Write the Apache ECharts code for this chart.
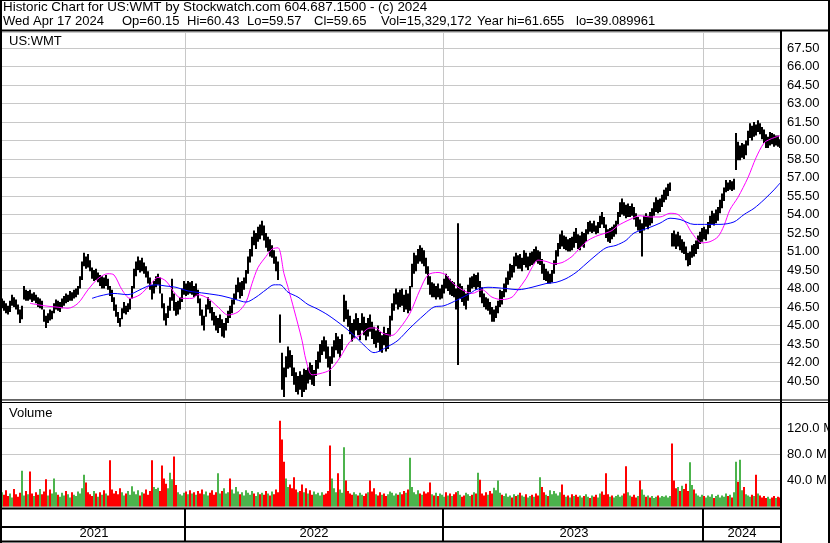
<!DOCTYPE html>
<html>
<head>
<meta charset="utf-8">
<script src="https://cdn.jsdelivr.net/npm/echarts@6/dist/echarts.min.js"></script>
<style>
html, body { margin: 0; padding: 0; background: #fff; }
#chart { width: 830px; height: 543px; }
</style>
</head>
<body>
<div id="chart"></div>
<script>
// one bar = two sessions, Apr 2021 .. Apr 17 2024 (split adjusted)
var highs = [
  47.2, 47.0, 46.8, 46.6, 47.0, 47.5, 47.3, 47.1, 46.7, 46.3,
  46.6, 48.2, 47.9, 47.8, 47.9, 47.6, 47.7, 47.5, 47.3, 47.2,
  47.0, 46.3, 45.8, 46.0, 46.3, 46.2, 46.8, 47.1, 47.0, 46.9,
  47.2, 47.4, 47.6, 47.5, 47.8, 47.7, 47.9, 48.0, 48.2, 49.0,
  50.2, 50.9, 50.6, 50.8, 50.3, 49.7, 49.5, 49.6, 49.3, 49.1,
  49.0, 48.9, 49.1, 48.8, 48.2, 47.9, 47.3, 46.7, 46.1, 45.6,
  46.4, 46.9, 46.6, 46.8, 47.2, 48.2, 49.6, 50.2, 50.6, 50.3,
  50.5, 50.1, 49.8, 49.4, 48.9, 48.3, 48.6, 49.0, 49.2, 48.9,
  47.6, 46.8, 46.0, 46.6, 47.3, 48.8, 47.6, 46.9, 47.0, 47.3,
  48.0, 48.6, 48.4, 48.6, 48.5, 48.6, 48.2, 48.4, 47.9, 47.2,
  46.3, 45.8, 46.7, 47.3, 47.0, 46.5, 46.1, 45.8, 45.6, 45.9,
  45.5, 45.2, 45.6, 46.2, 46.6, 47.1, 47.6, 48.3, 48.9, 48.5,
  48.6, 48.9, 49.5, 50.6, 51.2, 52.2, 52.7, 52.5, 53.0, 53.2,
  53.5, 53.1, 52.5, 52.2, 52.0, 51.5, 51.1, 50.6, 50.2, 45.9,
  42.8, 41.6, 42.5, 43.3, 43.0, 42.6, 41.6, 41.2, 40.9, 41.3,
  41.0, 41.5, 41.4, 41.6, 42.0, 41.8, 41.4, 42.2, 42.9, 43.5,
  43.8, 44.1, 43.8, 43.3, 42.5, 43.3, 43.8, 44.4, 44.1, 43.9,
  44.3, 47.5, 47.0, 46.3, 45.8, 45.2, 45.5, 46.0, 45.6, 45.2,
  46.0, 45.7, 45.2, 45.6, 45.9, 45.3, 44.9, 44.6, 45.0, 44.5,
  44.2, 44.9, 44.4, 44.8, 45.8, 46.8, 47.6, 48.0, 47.7, 47.9,
  48.0, 47.5, 47.9, 47.6, 48.2, 50.0, 50.9, 50.7, 51.2, 51.5,
  51.3, 51.1, 50.5, 49.8, 49.0, 48.5, 48.4, 48.2, 48.4, 48.0,
  48.3, 48.8, 49.2, 49.0, 48.8, 48.6, 48.5, 48.0, 53.3, 48.4,
  48.2, 47.9, 47.6, 48.3, 48.9, 49.0, 49.2, 49.1, 49.3, 48.6,
  48.1, 47.6, 47.3, 47.2, 46.9, 46.5, 46.3, 46.6, 47.0, 47.9,
  47.8, 48.4, 48.9, 49.4, 50.0, 49.9, 50.6, 50.9, 50.7, 50.8,
  50.5, 51.1, 50.9, 50.6, 50.9, 51.0, 51.2, 51.4, 51.1, 51.0,
  50.4, 50.0, 49.6, 49.4, 49.2, 49.5, 50.3, 51.1, 51.7, 52.4,
  52.7, 52.3, 52.2, 52.0, 52.1, 52.2, 52.6, 52.9, 52.4, 52.3,
  52.6, 52.5, 52.8, 53.4, 53.5, 53.3, 53.5, 53.1, 53.4, 53.9,
  54.2, 53.8, 53.2, 52.8, 52.9, 53.0, 53.2, 53.5, 54.2, 55.0,
  55.3, 55.0, 54.8, 54.9, 54.7, 54.9, 54.6, 54.1, 53.8, 53.6,
  53.3, 53.9, 54.1, 53.9, 54.2, 54.5, 55.0, 55.4, 55.2, 55.3,
  55.6, 56.0, 56.2, 56.5, 56.6, 52.5, 52.7, 52.4, 52.6, 52.3,
  52.0, 51.8, 51.4, 50.9, 51.0, 51.5, 51.6, 51.9, 52.3, 52.6,
  52.9, 53.0, 52.8, 53.4, 53.9, 54.3, 54.1, 54.4, 54.6, 55.2,
  55.7, 56.2, 56.8, 56.6, 56.8, 56.7, 56.9, 60.6, 59.9, 59.6,
  59.8, 59.7, 60.0, 60.8, 61.4, 61.2, 61.5, 61.3, 61.65, 61.4,
  61.1, 60.9, 60.5, 60.3, 60.7, 60.6, 60.5, 60.4, 60.4, 60.1
];
var lows = [
  46.4, 46.2, 46.0, 45.9, 46.1, 46.6, 46.5, 46.3, 45.9, 45.2,
  45.5, 47.1, 47.0, 47.0, 47.1, 46.9, 47.0, 46.8, 46.5, 46.4,
  46.3, 45.3, 44.8, 45.2, 45.4, 45.5, 46.0, 46.3, 46.2, 46.1,
  46.4, 46.6, 46.8, 46.9, 47.0, 47.0, 47.2, 47.3, 47.5, 48.0,
  48.7, 49.8, 49.6, 49.7, 49.4, 48.8, 48.6, 48.7, 48.5, 48.2,
  48.0, 48.0, 48.2, 47.9, 47.4, 46.9, 46.2, 45.7, 45.2, 44.9,
  45.5, 46.0, 45.9, 46.1, 46.3, 47.2, 48.0, 49.0, 49.5, 49.3,
  49.4, 49.2, 48.9, 48.4, 47.9, 47.1, 47.6, 48.1, 48.3, 47.6,
  46.4, 45.4, 45.0, 45.6, 46.2, 47.0, 46.2, 45.8, 45.9, 46.3,
  46.9, 47.5, 47.4, 47.5, 47.6, 47.5, 47.3, 47.4, 46.8, 45.8,
  45.0, 44.6, 45.7, 46.3, 46.0, 45.4, 45.0, 44.6, 44.4, 44.8,
  44.1, 44.0, 44.6, 45.2, 45.6, 46.0, 46.7, 47.1, 47.7, 47.2,
  47.4, 47.9, 48.4, 49.2, 50.1, 50.6, 51.5, 51.2, 51.8, 52.0,
  52.3, 51.9, 51.3, 51.0, 50.6, 50.5, 50.0, 49.4, 48.7, 43.6,
  39.8, 39.2, 40.8, 41.5, 41.6, 40.9, 40.2, 39.6, 39.4, 39.8,
  39.2, 39.6, 39.8, 40.3, 40.6, 40.2, 40.1, 40.9, 41.5, 42.0,
  42.6, 42.9, 42.3, 41.6, 40.1, 41.9, 42.4, 43.0, 42.7, 42.4,
  43.0, 45.3, 45.5, 44.9, 44.3, 43.7, 44.0, 44.6, 44.2, 43.8,
  44.6, 44.2, 43.8, 44.1, 44.5, 43.9, 43.5, 43.2, 43.6, 42.9,
  42.8, 43.4, 42.9, 43.1, 44.1, 45.4, 46.2, 46.7, 46.3, 46.5,
  46.6, 46.1, 46.3, 46.0, 46.2, 48.1, 49.2, 49.4, 50.0, 50.2,
  50.0, 49.8, 49.2, 48.3, 47.5, 47.3, 47.3, 47.1, 47.3, 47.1,
  47.2, 47.6, 48.0, 47.8, 47.5, 47.4, 47.3, 46.3, 41.8, 47.2,
  46.9, 46.6, 46.3, 47.0, 47.7, 48.0, 48.1, 47.9, 48.1, 47.3,
  46.8, 46.5, 46.3, 46.2, 45.9, 45.3, 45.3, 45.6, 46.0, 46.5,
  46.7, 47.3, 47.7, 48.3, 48.7, 48.9, 49.3, 49.8, 49.6, 49.6,
  49.4, 49.9, 49.7, 49.5, 49.8, 49.9, 50.0, 50.2, 50.0, 49.9,
  49.2, 48.7, 48.6, 48.4, 48.4, 48.5, 49.2, 49.9, 50.6, 51.2,
  51.4, 51.2, 51.1, 51.0, 51.0, 51.1, 51.3, 51.7, 51.2, 51.1,
  51.4, 51.3, 51.8, 52.4, 52.6, 52.5, 52.6, 52.4, 52.5, 52.9,
  53.2, 52.9, 52.1, 51.8, 51.7, 52.0, 52.2, 52.4, 53.2, 53.8,
  54.0, 53.9, 53.7, 53.8, 53.8, 53.9, 53.6, 53.0, 52.7, 52.5,
  50.6, 52.7, 53.0, 52.8, 53.1, 53.3, 53.9, 54.2, 54.1, 54.2,
  54.6, 55.0, 55.2, 55.5, 55.9, 51.4, 51.4, 51.2, 51.4, 51.1,
  50.9, 50.8, 50.3, 49.8, 49.9, 50.5, 50.6, 50.8, 51.2, 51.6,
  51.8, 52.0, 51.9, 52.4, 52.9, 53.2, 53.1, 53.3, 53.5, 54.1,
  54.5, 55.1, 55.8, 55.9, 56.0, 55.9, 56.0, 57.6, 58.4, 58.4,
  58.6, 58.5, 58.8, 59.6, 60.2, 60.0, 60.3, 60.4, 60.7, 60.5,
  60.1, 59.8, 59.4, 59.4, 59.6, 59.7, 59.5, 59.6, 59.5, 59.4
];
var closes = [
  46.8, 46.4, 46.2, 46.1, 46.8, 47.2, 46.8, 46.6, 46.1, 45.5,
  46.4, 47.8, 47.4, 47.6, 47.3, 47.2, 47.5, 47.0, 46.7, 47.0,
  46.5, 45.5, 45.1, 45.8, 45.6, 46.0, 46.5, 46.9, 46.4, 46.7,
  46.9, 47.2, 47.0, 47.3, 47.6, 47.2, 47.7, 47.8, 48.0, 48.8,
  50.0, 50.3, 50.1, 50.0, 49.6, 49.0, 49.2, 48.9, 49.0, 48.5,
  48.7, 48.3, 48.9, 48.1, 47.6, 47.1, 46.5, 45.9, 45.4, 45.2,
  46.2, 46.4, 46.3, 46.6, 47.0, 48.0, 49.3, 49.8, 50.1, 49.6,
  50.0, 49.5, 49.1, 48.6, 48.2, 47.4, 48.4, 48.7, 48.9, 47.8,
  46.6, 45.6, 45.3, 46.3, 47.0, 47.5, 46.4, 46.2, 46.6, 47.0,
  47.8, 48.1, 47.7, 48.3, 47.9, 48.2, 47.6, 48.0, 47.0, 46.0,
  45.3, 45.5, 46.5, 46.8, 46.4, 45.6, 45.3, 45.0, 45.2, 45.5,
  44.4, 44.9, 45.3, 46.0, 45.8, 46.9, 47.3, 48.0, 48.2, 47.5,
  48.3, 48.6, 49.3, 50.3, 50.8, 52.0, 51.8, 52.2, 52.6, 52.4,
  53.0, 52.2, 51.6, 51.8, 50.9, 51.2, 50.3, 49.8, 49.0, 43.8,
  40.3, 40.0, 42.0, 42.6, 41.9, 41.2, 40.5, 39.9, 40.6, 40.1,
  39.9, 41.0, 40.2, 41.3, 41.0, 40.6, 41.1, 41.9, 42.6, 42.8,
  43.5, 43.1, 42.6, 41.9, 41.5, 43.0, 43.4, 43.9, 43.1, 43.5,
  44.0, 46.8, 45.9, 45.3, 44.7, 44.1, 45.0, 45.3, 44.6, 44.9,
  45.6, 44.5, 44.3, 45.2, 44.8, 44.2, 43.8, 44.3, 43.9, 43.2,
  43.9, 43.7, 43.4, 44.4, 45.5, 46.4, 47.1, 47.4, 46.8, 47.6,
  47.0, 46.5, 47.5, 46.3, 48.0, 49.6, 50.3, 50.5, 50.9, 50.6,
  51.0, 50.2, 49.5, 48.6, 47.8, 48.2, 47.7, 48.0, 47.6, 47.8,
  48.0, 48.5, 48.4, 48.7, 47.9, 48.3, 47.6, 46.6, 47.8, 48.0,
  47.3, 47.1, 47.2, 48.0, 48.6, 48.3, 48.9, 48.4, 48.6, 47.6,
  47.2, 46.9, 46.6, 46.9, 46.2, 45.6, 46.0, 46.3, 46.8, 47.6,
  47.2, 48.1, 48.6, 49.2, 49.7, 49.3, 50.4, 50.2, 50.5, 49.9,
  50.2, 50.8, 50.0, 50.3, 50.6, 50.3, 50.9, 50.7, 50.4, 50.6,
  49.5, 49.0, 49.2, 48.7, 48.9, 49.3, 50.1, 50.8, 51.5, 52.0,
  51.8, 51.6, 51.9, 51.4, 51.8, 51.5, 52.3, 52.1, 51.6, 51.9,
  52.2, 52.0, 52.6, 53.1, 52.9, 53.2, 52.9, 52.7, 53.2, 53.6,
  53.5, 53.1, 52.4, 52.2, 52.6, 52.3, 52.9, 53.3, 54.0, 54.5,
  54.6, 54.2, 54.0, 54.3, 54.5, 54.2, 53.9, 53.3, 53.4, 52.8,
  52.9, 53.6, 53.4, 53.7, 53.5, 54.3, 54.6, 54.9, 54.5, 55.0,
  55.4, 55.7, 56.0, 56.3, 56.4, 51.9, 51.7, 51.5, 52.1, 51.4,
  51.6, 51.1, 50.6, 50.2, 50.7, 51.2, 50.9, 51.6, 52.0, 52.1,
  52.6, 52.4, 52.6, 53.2, 53.6, 53.8, 53.5, 54.1, 54.3, 54.9,
  55.4, 55.9, 56.4, 56.2, 56.5, 56.3, 56.6, 59.8, 59.1, 59.4,
  59.5, 59.0, 59.7, 60.5, 61.0, 60.6, 61.1, 60.8, 61.3, 60.8,
  60.5, 60.1, 59.7, 60.0, 60.4, 60.1, 59.8, 60.2, 59.7, 59.6
];
// volume, millions of shares
var volumes = [
  22, 18, 25, 16, 20, 14, 27, 19, 15, 21,
  55, 17, 24, 19, 54, 20, 16, 22, 18, 27,
  19, 23, 42, 17, 26, 20, 43, 22, 18, 15,
  21, 17, 24, 19, 14, 22, 18, 16, 23, 20,
  28, 49, 37, 22, 19, 16, 24, 20, 15, 22,
  18, 25, 20, 17, 71, 26, 20, 24, 19, 28,
  22, 17, 20, 24, 18, 31, 23, 19, 25, 17,
  22, 20, 26, 18, 24, 71, 30, 27, 29, 24,
  63, 43, 35, 28, 52, 42, 77, 33, 22, 19,
  17, 21, 23, 19, 25, 20, 22, 18, 24, 20,
  26, 19, 23, 17, 21, 25, 18, 22, 51, 20,
  24, 28, 20, 22, 43, 26, 20, 30, 23, 19,
  22, 17, 25, 21, 18, 24, 20, 16, 22, 19,
  21, 18, 24, 20, 17, 23, 19, 26, 22, 132,
  103, 69, 43, 30, 34, 28, 45, 26, 22, 24,
  34, 22, 28, 20, 25, 18, 23, 19, 21, 17,
  22, 18, 20, 24, 94, 43, 28, 22, 51, 26,
  21, 91, 40, 24, 20, 18, 22, 19, 17, 21,
  18, 16, 20, 22, 40, 23, 28, 19, 17, 22,
  18, 20, 16, 19, 23, 21, 17, 20, 18, 22,
  19, 24, 21, 26, 75, 30, 22, 19, 25, 20,
  18, 23, 20, 22, 37, 19, 17, 21, 16, 20,
  18, 15, 22, 17, 20, 16, 19, 22, 24, 18,
  15, 17, 21, 19, 16, 18, 22, 20, 52, 41,
  20, 17, 22, 18, 24, 20, 29, 25, 40, 21,
  18, 16, 20, 15, 17, 14, 19, 16, 18, 21,
  17, 15, 19, 14, 16, 18, 15, 20, 17, 45,
  30, 22, 18, 16, 25, 19, 24, 20, 17, 22,
  34, 18, 15, 17, 14, 19, 16, 18, 15, 17,
  14, 16, 19, 15, 13, 17, 15, 18, 14, 20,
  23, 18, 51, 19, 15, 17, 14, 16, 18, 15,
  17, 20, 62, 22, 17, 15, 18, 14, 16, 40,
  26, 18, 15, 17, 14, 16, 13, 15, 17, 14,
  16, 15, 17, 14, 16, 97, 40, 28, 30, 24,
  32, 27, 35, 24, 68, 33, 26, 20, 17, 15,
  18, 16, 14, 17, 15, 19, 13, 16, 18, 14,
  17, 15, 20, 16, 18, 14, 22, 69, 38, 72,
  25, 30, 19, 17, 15, 18, 16, 49, 20, 17,
  14, 16, 13, 15, 12, 14, 16, 13, 15, 14
];
// moving averages: [bar index, price]
var maShort = [
  [14, 46.8], [21, 46.6], [27, 46.5], [33, 46.4], [38, 46.8], [43, 47.9], [48, 48.8],
  [53, 49.2], [56, 49.1], [60, 47.9], [64, 47.2], [69, 47.5], [74, 48.3], [78, 48.9],
  [82, 48.6], [87, 47.5], [90, 47.2], [95, 47.2], [98, 47.5], [103, 47.2], [108, 46.5],
  [113, 45.85], [118, 46.1], [122, 46.9], [125, 48.4], [128, 49.7], [132, 50.6],
  [135, 51.2], [138, 51.3], [141, 49.2], [143, 48.1], [146, 46.3], [150, 43.8],
  [152, 42.2], [155, 41.0], [159, 41.1], [164, 41.4], [169, 42.4], [174, 43.7],
  [179, 44.2], [184, 44.8], [187, 44.8], [190, 44.4], [195, 44.2], [199, 44.8],
  [204, 46.0], [209, 47.9], [213, 49.1], [218, 49.3], [222, 49.1], [225, 48.5],
  [230, 47.9], [235, 47.6], [240, 47.9], [245, 47.3], [250, 47.1], [255, 47.3],
  [258, 47.9], [262, 48.8], [265, 49.7], [268, 50.3], [272, 50.2], [276, 50.0],
  [280, 50.1], [285, 50.6], [289, 51.3], [293, 51.9], [298, 52.3], [302, 52.5],
  [305, 52.7], [308, 53.1], [314, 53.6], [319, 53.9], [324, 53.8], [329, 53.8],
  [334, 54.1], [338, 54.0], [342, 53.3], [345, 52.5], [350, 51.7], [354, 51.8],
  [358, 52.2], [361, 53.1], [364, 54.4], [368, 55.4], [373, 57.0], [377, 58.6],
  [381, 59.8], [384, 60.1], [389, 60.4]
];
var maLong = [
  [45, 47.2], [49, 47.4], [56, 47.6], [63, 47.5], [69, 47.9], [73, 48.2], [77, 48.3],
  [82, 48.2], [87, 48.1], [93, 47.8], [102, 47.6], [110, 47.4], [117, 47.1],
  [122, 46.9], [127, 47.3], [132, 47.9], [136, 48.3], [139, 48.3], [143, 47.7],
  [148, 47.3], [153, 46.7], [157, 46.4], [163, 45.85], [171, 44.9], [176, 44.2],
  [181, 43.4], [186, 42.8], [193, 43.3], [198, 43.8], [204, 44.8], [211, 45.85],
  [216, 46.5], [221, 46.6], [228, 47.1], [234, 47.6], [237, 47.9], [243, 48.1],
  [252, 48.0], [258, 47.9], [265, 48.1], [272, 48.4], [277, 48.5], [282, 48.8],
  [287, 49.3], [292, 50.0], [297, 50.7], [302, 51.3], [307, 51.5], [312, 51.9],
  [316, 52.5], [323, 52.9], [329, 53.3], [334, 53.7], [339, 53.6], [346, 53.2],
  [353, 53.2], [359, 53.2], [366, 53.4], [371, 54.0], [376, 54.5], [381, 55.2],
  [386, 56.0], [389, 56.55]
];
var years = ['2021', '2022', '2023', '2024'];
var yearStart = [0, 92, 221, 351];   // bar index where each year begins

var titleLine1 = 'Historic Chart for US:WMT by Stockwatch.com 604.687.1500 - (c) 2024';
var titleFields = ['Wed Apr 17 2024', 'Op=60.15', 'Hi=60.43', 'Lo=59.57', 'Cl=59.65',
  'Vol=15,329,172', 'Year hi=61.655', 'lo=39.089961'];
var titleFieldX = [3, 122, 187, 247, 314, 381, 477, 576];
var symbol = 'US:WMT';

var FONT = '"Liberation Sans", Arial, sans-serif';
var GRID = '#c8c8c8';
var UP = '#4cb34c', DOWN = '#ff0000', FLAT = '#a0a0a0';

var N = highs.length;
var cats = highs.map(function (v, i) { return String(i); });
var yearMid = yearStart.map(function (s, k) {
  var e = k + 1 < yearStart.length ? yearStart[k + 1] : N;
  return Math.floor((s + e) / 2);
});
function isYearStart(i) { return yearStart.indexOf(i) > 0; }

var volData = volumes.map(function (v, i) {
  var d = i === 0 ? 1 : closes[i] - closes[i - 1];
  return { value: v, itemStyle: { color: d > 0 ? UP : (d < 0 ? DOWN : FLAT) } };
});

function xAxisFor(g) {
  return {
    type: 'category', gridIndex: g, data: cats, boundaryGap: true,
    axisLine: { show: false }, axisTick: { show: false },
    axisLabel: g === 2 ? {
      show: true, inside: true, margin: 2,
      fontFamily: FONT, fontSize: 13, color: '#000',
      interval: function (i) { return yearMid.indexOf(i) >= 0; },
      formatter: function (v) { return years[yearMid.indexOf(Number(v))] || ''; }
    } : { show: false },
    splitLine: {
      show: true,
      interval: function (i) { return isYearStart(i); },
      lineStyle: { color: g === 2 ? '#000' : GRID, width: g === 2 ? 2 : 1 }
    }
  };
}

function hline(y, x1, x2, w) {
  return { type: 'line', z: 100, shape: { x1: x1, y1: y, x2: x2, y2: y }, style: { stroke: '#000', lineWidth: w } };
}
function vline(x, y1, y2, w) {
  return { type: 'line', z: 100, shape: { x1: x, y1: y1, x2: x, y2: y2 }, style: { stroke: '#000', lineWidth: w } };
}
function label(text, x, y, size) {
  return { type: 'text', z: 101, x: x, y: y,
    style: { text: text, font: (size || 13) + 'px ' + FONT, fill: '#000', textVerticalAlign: 'middle' } };
}

var graphics = [
  label(titleLine1, 3, 7.5, 13.4),
  label(symbol, 9, 41.5),
  label('Volume', 9, 413),
  vline(1, 0, 543, 2),
  vline(829, 0, 543, 2),
  hline(0.5, 0, 830, 1),
  hline(30.5, 0, 830, 2),
  vline(781, 31, 543, 2),
  hline(400, 0, 830, 1),
  hline(402.5, 0, 830, 1),
  hline(508.5, 0, 781, 2),
  hline(527, 0, 781, 2),
  hline(541.5, 0, 781, 2)
];
titleFields.forEach(function (t, k) { graphics.push(label(t, titleFieldX[k], 21.5)); });

var gridBase = { left: 1, right: 49, containLabel: false, outerBoundsMode: 'none' };
function gridAt(top, height) {
  return Object.assign({}, gridBase, { top: top, height: height });
}

var chart = echarts.init(document.getElementById('chart'));
chart.setOption({
  animation: false,
  backgroundColor: '#fff',
  grid: [gridAt(32, 367.5), gridAt(402.5, 104), gridAt(509, 33)],
  xAxis: [xAxisFor(0), xAxisFor(1), xAxisFor(2)],
  yAxis: [
    {
      type: 'value', gridIndex: 0, position: 'right', min: 39, max: 68.8, interval: 1.5,
      axisLine: { show: false }, axisTick: { show: false },
      axisLabel: { margin: 6, fontFamily: FONT, fontSize: 13, color: '#000', showMinLabel: false, showMaxLabel: false,
        formatter: function (v) { return v.toFixed(2); } },
      splitLine: { lineStyle: { color: GRID, width: 1 } }
    },
    {
      type: 'value', gridIndex: 1, position: 'right', min: 0, max: 160, interval: 40,
      axisLine: { show: false }, axisTick: { show: false },
      axisLabel: { margin: 6, fontFamily: FONT, fontSize: 13, color: '#000', showMinLabel: false, showMaxLabel: false,
        formatter: function (v) { return v.toFixed(1) + ' M'; } },
      splitLine: { lineStyle: { color: GRID, width: 1 } }
    },
    { type: 'value', gridIndex: 2, show: false }
  ],
  series: [
    {
      type: 'custom', xAxisIndex: 0, yAxisIndex: 0,
      data: highs.map(function (h, i) { return [i, h, lows[i]]; }),
      encode: { x: 0, y: [1, 2] },
      renderItem: function (params, api) {
        var i = api.value(0);
        var top = api.coord([i, api.value(1)]);
        var bot = api.coord([i, api.value(2)]);
        var w = api.size([1, 0])[0];
        return {
          type: 'rect',
          shape: { x: top[0] - w / 2, y: top[1], width: w, height: Math.max(1, bot[1] - top[1]) },
          style: { fill: '#000' }
        };
      }
    },
    {
      type: 'line', xAxisIndex: 0, yAxisIndex: 0, data: maShort, smooth: 0.3,
      symbol: 'none', lineStyle: { color: '#ff00ff', width: 1 }, z: 5
    },
    {
      type: 'line', xAxisIndex: 0, yAxisIndex: 0, data: maLong, smooth: 0.3,
      symbol: 'none', lineStyle: { color: '#0000ff', width: 1 }, z: 5
    },
    {
      type: 'bar', xAxisIndex: 1, yAxisIndex: 1, data: volData,
      barCategoryGap: '0%', barGap: '0%'
    }
  ],
  graphic: graphics
});
</script>
</body>
</html>
